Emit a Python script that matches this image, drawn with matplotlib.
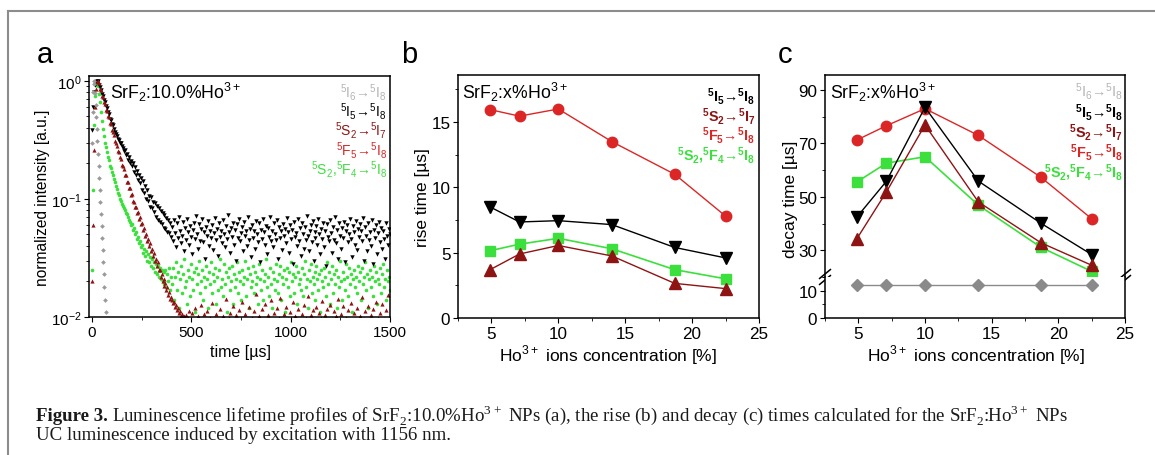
import matplotlib
matplotlib.use("Agg")
import matplotlib.pyplot as plt
from matplotlib.ticker import MultipleLocator, LogLocator, NullFormatter
from matplotlib.lines import Line2D

plt.rcParams['font.family'] = ['Liberation Sans', 'DejaVu Sans']
plt.rcParams['font.size'] = 11
plt.rcParams['xtick.direction'] = 'out'
plt.rcParams['ytick.direction'] = 'out'
plt.rcParams['axes.linewidth'] = 1.1

# ---- panel a: lifetime profiles (time in us, normalized intensity) ----
time_us = [
    0, 5, 10, 15, 20, 25, 30, 35, 40, 45, 50, 55, 60, 65, 70, 75, 80, 85, 90, 95,
    100, 105, 110, 115, 120, 125, 130, 135, 140, 145, 150, 155, 160, 165, 170, 175, 180, 185, 190, 195,
    200, 205, 210, 215, 220, 225, 230, 235, 240, 245, 250, 255, 260, 265, 270, 275, 280, 285, 290, 295,
    300, 305, 310, 315, 320, 325, 330, 335, 340, 345, 350, 355, 360, 365, 370, 375, 380, 385, 390, 395,
    400, 405, 410, 415, 420, 425, 430, 435, 440, 445, 450, 455, 460, 465, 470, 475, 480, 485, 490, 495,
    500, 505, 510, 515, 520, 525, 530, 535, 540, 545, 550, 555, 560, 565, 570, 575, 580, 585, 590, 595,
    600, 605, 610, 615, 620, 625, 630, 635, 640, 645, 650, 655, 660, 665, 670, 675, 680, 685, 690, 695,
    700, 705, 710, 715, 720, 725, 730, 735, 740, 745, 750, 755, 760, 765, 770, 775, 780, 785, 790, 795,
    800, 805, 810, 815, 820, 825, 830, 835, 840, 845, 850, 855, 860, 865, 870, 875, 880, 885, 890, 895,
    900, 905, 910, 915, 920, 925, 930, 935, 940, 945, 950, 955, 960, 965, 970, 975, 980, 985, 990, 995,
    1000, 1005, 1010, 1015, 1020, 1025, 1030, 1035, 1040, 1045, 1050, 1055, 1060, 1065, 1070, 1075,
    1080, 1085, 1090, 1095,
    1100, 1105, 1110, 1115, 1120, 1125, 1130, 1135, 1140, 1145, 1150, 1155, 1160, 1165, 1170, 1175,
    1180, 1185, 1190, 1195,
    1200, 1205, 1210, 1215, 1220, 1225, 1230, 1235, 1240, 1245, 1250, 1255, 1260, 1265, 1270, 1275,
    1280, 1285, 1290, 1295,
    1300, 1305, 1310, 1315, 1320, 1325, 1330, 1335, 1340, 1345, 1350, 1355, 1360, 1365, 1370, 1375,
    1380, 1385, 1390, 1395,
    1400, 1405, 1410, 1415, 1420, 1425, 1430, 1435, 1440, 1445, 1450, 1455, 1460, 1465, 1470, 1475,
    1480, 1485, 1490, 1495,
    1500,
]

# 5I5 -> 5I8 (black)
I5_int = [
    0.38, 0.6, 0.8, 0.92, 0.98, 1.0, 0.99, 0.93, 0.88, 0.84,
    0.78, 0.75, 0.69, 0.66, 0.61, 0.59, 0.54, 0.52, 0.48, 0.47,
    0.43, 0.42, 0.39, 0.37, 0.355, 0.34, 0.32, 0.315, 0.295, 0.3,
    0.28, 0.27, 0.255, 0.26, 0.235, 0.24, 0.215, 0.225, 0.2, 0.21,
    0.19, 0.2, 0.17, 0.185, 0.16, 0.172, 0.145, 0.158, 0.137, 0.15,
    0.12, 0.141, 0.113, 0.128, 0.1, 0.118, 0.097, 0.106, 0.086, 0.104,
    0.083, 0.095, 0.077, 0.093, 0.071, 0.087, 0.066, 0.084, 0.064, 0.079,
    0.061, 0.076, 0.057, 0.073, 0.056, 0.069, 0.052, 0.066, 0.051, 0.063,
    0.048,
    0.058, 0.044, 0.066, 0.051, 0.039, 0.062, 0.047, 0.071, 0.053, 0.042,
    0.049, 0.064, 0.036, 0.057, 0.045, 0.068, 0.052, 0.041, 0.059, 0.048,
    0.034, 0.055, 0.063, 0.046, 0.072, 0.05, 0.038, 0.061, 0.044, 0.056,
    0.067, 0.043, 0.052, 0.031, 0.058, 0.049, 0.065, 0.04, 0.054, 0.047,
    0.06, 0.037, 0.051, 0.069, 0.045, 0.056, 0.033, 0.062, 0.048, 0.053,
    0.042, 0.066, 0.05, 0.039, 0.059, 0.046, 0.073, 0.052, 0.035, 0.057,
    0.048, 0.063, 0.041, 0.055, 0.03, 0.061, 0.047, 0.068, 0.044, 0.051,
    0.058, 0.036, 0.064, 0.049, 0.053, 0.04, 0.07, 0.045, 0.056, 0.032,
    0.06, 0.047, 0.054, 0.038, 0.065, 0.05, 0.043, 0.062, 0.029, 0.055,
    0.046, 0.067, 0.052, 0.041, 0.059, 0.034, 0.057, 0.048, 0.071, 0.044,
    0.053, 0.039, 0.063, 0.05, 0.045, 0.066, 0.031, 0.058, 0.047, 0.054,
    0.037, 0.061, 0.049, 0.056, 0.042, 0.069, 0.052, 0.035, 0.06, 0.046,
    0.055, 0.028, 0.064, 0.048, 0.051, 0.04, 0.067, 0.044, 0.057, 0.033,
    0.062, 0.05, 0.038, 0.058, 0.045, 0.072, 0.049, 0.036, 0.054, 0.06,
    0.043, 0.065, 0.03, 0.052, 0.047, 0.059, 0.041, 0.068, 0.05, 0.034,
    0.056, 0.046, 0.063, 0.039, 0.053, 0.027, 0.061, 0.048, 0.044, 0.066,
    0.051, 0.035, 0.058, 0.045, 0.07, 0.042, 0.055, 0.031, 0.062, 0.049,
    0.038, 0.057, 0.047, 0.064, 0.029, 0.053, 0.06, 0.043, 0.05, 0.067,
    0.046, 0.032, 0.059, 0.052, 0.041, 0.065, 0.037, 0.056, 0.048, 0.061,
    0.054, 0.044, 0.069, 0.03, 0.058, 0.049, 0.036, 0.063, 0.045, 0.052,
    0.04, 0.066, 0.028, 0.055, 0.047, 0.06, 0.034, 0.051, 0.064, 0.043,
    0.057, 0.038, 0.053, 0.046, 0.031, 0.062, 0.049, 0.041, 0.056, 0.05,
]

# 5S2,5F4 -> 5I8 (green)
S2F4_int = [
    0.025, 0.12, 0.42, 0.74, 0.93, 1.0, 0.9, 0.77, 0.66, 0.54,
    0.46, 0.39, 0.34, 0.3, 0.275, 0.25, 0.225, 0.215, 0.19, 0.182,
    0.17, 0.158, 0.148, 0.14, 0.128, 0.122, 0.112, 0.107, 0.1, 0.097,
    0.09, 0.087, 0.083, 0.08, 0.076, 0.074, 0.07, 0.066, 0.064, 0.06,
    0.061, 0.055, 0.057, 0.05, 0.052, 0.046, 0.048, 0.042, 0.044, 0.039,
    0.041, 0.035, 0.038, 0.033, 0.036, 0.03, 0.034, 0.029, 0.032, 0.027,
    0.031, 0.026, 0.029, 0.024, 0.028, 0.023, 0.027, 0.022, 0.026, 0.021,
    0.025, 0.02, 0.024, 0.019, 0.025, 0.018, 0.023, 0.02, 0.026, 0.017,
    0.022,
    0.019, 0.026, 0.014, 0.022, 0.029, 0.017, 0.024, 0.012, 0.021, 0.027,
    0.016, 0.023, 0.031, 0.018, 0.02, 0.013, 0.025, 0.022, 0.015, 0.028,
    0.021, 0.017, 0.024, 0.011, 0.026, 0.019, 0.023, 0.03, 0.016, 0.02,
    0.025, 0.014, 0.022, 0.018, 0.027, 0.021, 0.012, 0.024, 0.019, 0.029,
    0.016, 0.023, 0.02, 0.026, 0.013, 0.022, 0.017, 0.025, 0.031, 0.018,
    0.021, 0.015, 0.028, 0.019, 0.024, 0.011, 0.022, 0.026, 0.017, 0.02,
    0.027, 0.013, 0.023, 0.018, 0.021, 0.029, 0.016, 0.024, 0.02, 0.014,
    0.025, 0.019, 0.022, 0.03, 0.015, 0.021, 0.026, 0.012, 0.023, 0.018,
    0.02, 0.027, 0.016, 0.024, 0.019, 0.022, 0.013, 0.028, 0.021, 0.017,
    0.025, 0.014, 0.02, 0.023, 0.031, 0.018, 0.022, 0.015, 0.026, 0.019,
    0.012, 0.024, 0.021, 0.017, 0.028, 0.02, 0.016, 0.023, 0.027, 0.014,
    0.022, 0.019, 0.025, 0.011, 0.021, 0.026, 0.018, 0.024, 0.015, 0.029,
    0.02, 0.023, 0.016, 0.022, 0.027, 0.013, 0.024, 0.019, 0.021, 0.017,
    0.026, 0.015, 0.023, 0.03, 0.018, 0.021, 0.012, 0.025, 0.02, 0.028,
    0.016, 0.022, 0.019, 0.024, 0.014, 0.027, 0.021, 0.017, 0.023, 0.011,
    0.025, 0.02, 0.018, 0.026, 0.022, 0.015, 0.029, 0.019, 0.024, 0.013,
    0.021, 0.027, 0.016, 0.023, 0.019, 0.025, 0.012, 0.022, 0.018, 0.03,
    0.02, 0.014, 0.024, 0.021, 0.017, 0.028, 0.022, 0.015, 0.026, 0.019,
    0.023, 0.011, 0.021, 0.025, 0.018, 0.022, 0.016, 0.027, 0.02, 0.024,
    0.014, 0.026, 0.019, 0.022, 0.029, 0.017, 0.023, 0.012, 0.021, 0.025,
    0.018, 0.022, 0.015, 0.027, 0.02, 0.024, 0.013, 0.021, 0.019, 0.026,
    0.016, 0.023, 0.028, 0.018, 0.021, 0.014, 0.025, 0.02, 0.022, 0.017,
]

# 5S2 -> 5I7 (dark red)
S2_I7_int = [
    0.02, 0.06, 0.26, 0.6, 0.86, 0.97, 1.0, 0.96, 0.85, 0.84,
    0.75, 0.73, 0.66, 0.64, 0.57, 0.56, 0.5, 0.49, 0.44, 0.43,
    0.38, 0.37, 0.35, 0.31, 0.3, 0.28, 0.255, 0.25, 0.225, 0.22,
    0.195, 0.19, 0.18, 0.16, 0.158, 0.14, 0.139, 0.124, 0.123, 0.108,
    0.11, 0.096, 0.095, 0.085, 0.086, 0.076, 0.078, 0.068, 0.07, 0.061,
    0.063, 0.055, 0.057, 0.049, 0.05, 0.044, 0.046, 0.04, 0.042, 0.036,
    0.038, 0.033, 0.035, 0.03, 0.031, 0.027, 0.029, 0.025, 0.025, 0.022,
    0.023, 0.02, 0.021, 0.0182, 0.0195, 0.0168, 0.0178, 0.0155, 0.0162, 0.0142,
    0.0149,
    0.0139, 0.0131, 0.0134, 0.0122, 0.0126, 0.0115, 0.0119, 0.0108, 0.0112, 0.0102,
    0.0106, 0.0097, 0.0101, 0.0092, 0.0104, 0.0089, 0.0098, 0.0112, 0.0087, 0.0095,
    0.0108, 0.0084, 0.0093, 0.0119, 0.0088, 0.0079, 0.0102, 0.0091, 0.0086, 0.0127,
    0.0083, 0.0094, 0.0105, 0.0081, 0.0089, 0.0113, 0.0078, 0.0092, 0.0099, 0.0086,
    0.0131, 0.0088, 0.0082, 0.0096, 0.0107, 0.0079, 0.0091, 0.0085, 0.0118, 0.0093,
    0.0087, 0.0101, 0.0076, 0.0094, 0.0142, 0.0089, 0.0083, 0.0098, 0.0109, 0.0081,
    0.0092, 0.0124, 0.0086, 0.0078, 0.0103, 0.0095, 0.0088, 0.0115, 0.0082, 0.0097,
    0.0135, 0.0084, 0.0091, 0.0106, 0.0079, 0.0093, 0.0087, 0.0121, 0.0095, 0.0083,
    0.0099, 0.0088, 0.0112, 0.0081, 0.0157, 0.0094, 0.0086, 0.0102, 0.0077, 0.009,
    0.0117, 0.0085, 0.0096, 0.0128, 0.0083, 0.0092, 0.0104, 0.0089, 0.0079, 0.0138,
    0.0091, 0.0087, 0.0108, 0.0082, 0.0095, 0.0119, 0.0084, 0.0098, 0.0146, 0.0088,
    0.0093, 0.0078, 0.0105, 0.0089, 0.0122, 0.0086, 0.0097, 0.0081, 0.0111, 0.0094,
    0.0085, 0.0133, 0.009, 0.0101, 0.0083, 0.0096, 0.0116, 0.0087, 0.0092, 0.0079,
    0.0107, 0.0094, 0.0126, 0.0084, 0.0099, 0.0088, 0.0152, 0.0091, 0.0082, 0.0103,
    0.0089, 0.0114, 0.0086, 0.0095, 0.0078, 0.0121, 0.0093, 0.0087, 0.0109, 0.0083,
    0.0098, 0.0136, 0.0085, 0.0092, 0.0104, 0.0081, 0.0118, 0.0096, 0.0088, 0.0127,
    0.0084, 0.0097, 0.0091, 0.0113, 0.0079, 0.0102, 0.0089, 0.0143, 0.0086, 0.0094,
    0.0106, 0.0083, 0.0124, 0.0092, 0.0087, 0.0099, 0.0081, 0.0115, 0.0095, 0.0088,
    0.0131, 0.009, 0.0085, 0.0108, 0.0096, 0.0078, 0.0119, 0.0093, 0.0086, 0.0101,
    0.0089, 0.0147, 0.0084, 0.0097, 0.0112, 0.0082, 0.0094, 0.0125, 0.0088, 0.0091,
    0.0103, 0.0086, 0.0118, 0.0079, 0.0095, 0.0134, 0.0087, 0.0099, 0.0083, 0.0109,
    0.0092, 0.0128, 0.0085, 0.0096, 0.0081, 0.0114, 0.0089, 0.0155, 0.0094, 0.0087,
]

# 5I6 -> 5I8 (grey), only the fast part is above 1e-2
I6_time = [0, 3, 6, 9, 12, 15, 18, 21, 24, 27, 30, 33, 36, 39, 42, 45, 48,
           51, 54, 57, 60, 63, 66, 69, 72]
I6_int = [0.3, 0.55, 0.8, 0.95, 1.0, 0.79, 0.62, 0.49, 0.39, 0.31, 0.24, 0.19,
          0.15, 0.12, 0.095, 0.075, 0.059, 0.047, 0.037, 0.029, 0.023, 0.018,
          0.014, 0.011, 0.0088]

# ---- panels b, c: rise and decay times vs Ho3+ concentration ----
conc = [4.9, 7.1, 10.0, 14.0, 18.7, 22.5]

rise_I5 = [8.5, 7.35, 7.45, 7.15, 5.4, 4.6]
rise_S2I7 = [3.7, 4.9, 5.55, 4.75, 2.65, 2.25]
rise_F5 = [15.95, 15.45, 16.0, 13.5, 11.0, 7.8]
rise_S2F4 = [5.15, 5.65, 6.1, 5.3, 3.7, 3.0]

decay_I6 = [12.1, 12.1, 12.1, 12.1, 12.1, 12.1]
decay_I5 = [42.5, 55.8, 83.5, 55.9, 40.1, 28.4]
decay_S2I7 = [34.4, 51.8, 76.9, 48.1, 32.8, 24.4]
decay_F5 = [71.3, 76.6, 83.0, 73.0, 57.3, 41.8]
decay_S2F4 = [55.6, 62.6, 65.0, 46.9, 31.1, 22.1]

c_gray = '#9a9a9a'
c_lgray = '#b4b4b4'
c_black = '#000000'
c_dred = '#8e1414'
c_red = '#dc2626'
c_green = '#3ce03c'

lab_I6 = r'$^\mathregular{5}$I$_\mathregular{6}$→$^\mathregular{5}$I$_\mathregular{8}$'
lab_I5 = r'$^\mathregular{5}$I$_\mathregular{5}$→$^\mathregular{5}$I$_\mathregular{8}$'
lab_S2 = r'$^\mathregular{5}$S$_\mathregular{2}$→$^\mathregular{5}$I$_\mathregular{7}$'
lab_F5 = r'$^\mathregular{5}$F$_\mathregular{5}$→$^\mathregular{5}$I$_\mathregular{8}$'
lab_S2F4 = (r'$^\mathregular{5}$S$_\mathregular{2}$,$^\mathregular{5}$F$_\mathregular{4}$'
            r'→$^\mathregular{5}$I$_\mathregular{8}$')
ho_label = r'Ho$^\mathregular{3+}$ ions concentration [%]'

W, H = 1155, 456
fig = plt.figure(figsize=(W / 100, H / 100), dpi=100)


def px_axes(l, t, r, b):
    return fig.add_axes([l / W, 1 - b / H, (r - l) / W, (b - t) / H])


def px_text(x, y, s, **kw):
    return fig.text(x / W, 1 - y / H, s, **kw)


# outer frame
fig.add_artist(Line2D([8 / W, 8 / W], [0, 1 - 12 / H], transform=fig.transFigure,
                      color='#8c8c8c', lw=1.5))
fig.add_artist(Line2D([8 / W, 1], [1 - 12 / H, 1 - 12 / H], transform=fig.transFigure,
                      color='#8c8c8c', lw=1.5))

# ---------------- a ----------------
ax = px_axes(89, 77, 390, 318)
ax.plot(time_us, S2F4_int, 'o', color=c_green, ms=2.6, mew=0, ls='none')
ax.plot(time_us, I5_int, 'v', color=c_black, ms=3.2, mew=0, ls='none')
ax.plot(time_us, S2_I7_int, '^', color=c_dred, ms=3.0, mew=0, ls='none')
ax.plot(I6_time, I6_int, 'D', color=c_gray, ms=2.4, mew=0, ls='none')
ax.set_yscale('log')
ax.set_ylim(0.01, 1.1)
ax.set_xlim(-15, 1500)
ax.xaxis.set_major_locator(MultipleLocator(500))
ax.xaxis.set_minor_locator(MultipleLocator(250))
ax.yaxis.set_minor_locator(LogLocator(base=10, subs=range(2, 10)))
ax.yaxis.set_minor_formatter(NullFormatter())
ax.tick_params(labelsize=11, pad=2)
px_text(43, 198, 'normalized intensity [a.u.]', rotation=90, ha='center', va='center',
        fontsize=11.2)
px_text(240, 353, 'time [µs]', ha='center', va='center', fontsize=11.5)
ax.text(0.07, 0.935, r'SrF$_\mathregular{2}$:10.0%Ho$^\mathregular{3+}$', transform=ax.transAxes,
        va='center', ha='left', fontsize=12.7)
for i, (s, c) in enumerate([(lab_I6, c_lgray), (lab_I5, c_black), (lab_S2, c_dred),
                            (lab_F5, c_red), (lab_S2F4, c_green)]):
    ax.text(0.99, 0.934 - i * 0.079, s, color=c, transform=ax.transAxes,
            ha='right', va='center', fontsize=10)

# ---------------- b ----------------
bx = px_axes(458, 76, 759, 319)
bx.plot(conc, rise_F5, '-o', color=c_red, lw=1.0, ms=7.5)
bx.plot(conc, rise_I5, '-v', color=c_black, lw=1.0, ms=8)
bx.plot(conc, rise_S2F4, '-s', color=c_green, lw=1.2, ms=6.5)
bx.plot(conc, rise_S2I7, '-^', color=c_dred, lw=1.0, ms=8)
bx.set_xlim(2.5, 25)
bx.set_ylim(0, 18.6)
bx.xaxis.set_major_locator(MultipleLocator(5))
bx.xaxis.set_minor_locator(MultipleLocator(2.5))
bx.yaxis.set_major_locator(MultipleLocator(5))
bx.yaxis.set_minor_locator(MultipleLocator(2.5))
bx.tick_params(labelsize=12.3, pad=2)
px_text(423, 198, 'rise time [µs]', rotation=90, ha='center', va='center', fontsize=12.5)
px_text(608, 355, ho_label, ha='center', va='center', fontsize=12.5)
bx.text(0.013, 0.934, r'SrF$_\mathregular{2}$:x%Ho$^\mathregular{3+}$', transform=bx.transAxes,
        va='center', ha='left', fontsize=12.7)
for i, (s, c) in enumerate([(lab_I5, c_black), (lab_S2, c_dred),
                            (lab_F5, c_red), (lab_S2F4, c_green)]):
    bx.text(0.987, 0.914 - i * 0.08, s, color=c, transform=bx.transAxes,
            ha='right', va='center', fontsize=10.3, fontweight='bold')

# ---------------- c (broken y axis) ----------------
cx = px_axes(825, 76, 1125, 278)
cl = px_axes(825, 278, 1125, 319)
for a_ in (cx, cl):
    a_.plot(conc, decay_F5, '-o', color=c_red, lw=1.0, ms=7.5)
    a_.plot(conc, decay_S2F4, '-s', color=c_green, lw=1.2, ms=6.5)
    a_.plot(conc, decay_I5, '-v', color=c_black, lw=1.0, ms=8)
    a_.plot(conc, decay_S2I7, '-^', color=c_dred, lw=1.0, ms=8)
    a_.plot(conc, decay_I6, '-D', color='#8a8a8a', lw=1.0, ms=6.5)
    a_.set_xlim(2.5, 25)
    a_.xaxis.set_major_locator(MultipleLocator(5))
    a_.xaxis.set_minor_locator(MultipleLocator(2.5))
    a_.tick_params(labelsize=12.3, pad=2)
cx.set_ylim(20, 95.6)
cl.set_ylim(0, 15)
cx.spines['bottom'].set_visible(False)
cl.spines['top'].set_visible(False)
cx.tick_params(axis='x', which='both', bottom=False, labelbottom=False)
cx.set_yticks([30, 50, 70, 90])
cx.yaxis.set_minor_locator(MultipleLocator(10))
cl.set_yticks([0, 10])
cl.yaxis.set_minor_locator(MultipleLocator(5))
px_text(790, 199, 'decay time [µs]', rotation=90, ha='center', va='center', fontsize=12.5)
px_text(976, 355, ho_label, ha='center', va='center', fontsize=12.5)
cx.text(0.017, 0.92, r'SrF$_\mathregular{2}$:x%Ho$^\mathregular{3+}$', transform=cx.transAxes,
        va='center', ha='left', fontsize=12.7)
for i, (s, c, w) in enumerate([(lab_I6, c_lgray, 'normal'), (lab_I5, c_black, 'bold'),
                               (lab_S2, c_dred, 'bold'), (lab_F5, c_red, 'bold'),
                               (lab_S2F4, c_green, 'bold')]):
    cx.text(0.993, 0.921 - i * 0.1, s, color=c, transform=cx.transAxes,
            ha='right', va='center', fontsize=10.4, fontweight=w)
# break marks
for xf in (0, 1):
    for dy in (-3, 3):
        cx.plot([xf - 0.018, xf + 0.018], [dy / 202 - 0.022, dy / 202 + 0.022],
                transform=cx.transAxes, color='k', lw=1.1, clip_on=False)

# panel letters
px_text(45, 63, 'a', fontsize=21, ha='center', va='baseline')
px_text(409, 63, 'b', fontsize=21, ha='center', va='baseline')
px_text(785, 63, 'c', fontsize=21, ha='center', va='baseline')

# caption
cap_font = ['Liberation Serif', 'DejaVu Serif']
cap_size = 13.6
t1 = px_text(36, 421, 'Figure 3.', fontweight='bold', family=cap_font,
             fontsize=cap_size, color='#1a1a1a', va='baseline')
fig.canvas.draw()
bb = t1.get_window_extent()
fig.text((bb.x1 + 4) / W, 1 - 421 / H,
         r'Luminescence lifetime profiles of SrF$_\mathregular{2}$:10.0%Ho$^\mathregular{3+}$ NPs (a), '
         r'the rise (b) and decay (c) times calculated for the SrF$_\mathregular{2}$:Ho$^\mathregular{3+}$ NPs',
         family=cap_font, fontsize=cap_size, color='#1a1a1a', va='baseline')
px_text(36, 440, 'UC luminescence induced by excitation with 1156 nm.',
        family=cap_font, fontsize=cap_size, color='#1a1a1a', va='baseline')

fig.savefig('out.png', dpi=100)
